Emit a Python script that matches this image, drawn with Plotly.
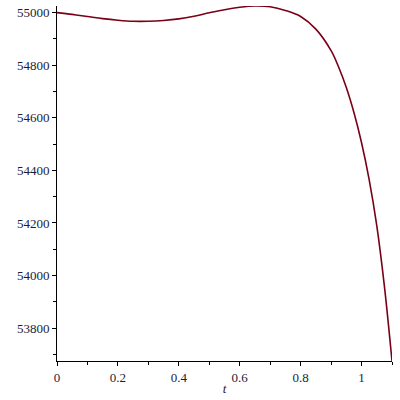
import plotly.graph_objects as go

# values
t_values = [0, 0.05, 0.1, 0.15, 0.2, 0.25, 0.3, 0.35, 0.4, 0.45, 0.5, 0.55, 0.6, 0.65, 0.7,
            0.75, 0.8, 0.85, 0.9, 0.925, 0.95, 0.975, 1.0, 1.025, 1.05, 1.075, 1.1]
y_values = [55000, 54993, 54985, 54977, 54971, 54967, 54967, 54970, 54976, 54986, 54999, 55011, 55020, 55025, 55022,
            55008, 54985, 54937, 54855, 54792, 54715, 54620, 54505, 54365, 54190, 53960, 53675]

x_ticks = [0, 0.2, 0.4, 0.6, 0.8, 1]
x_labels = ['0', '0.2', '0.4', '0.6', '0.8', '1']
y_ticks = [53800, 54000, 54200, 54400, 54600, 54800, 55000]
y_labels = ['53800', '54000', '54200', '54400', '54600', '54800', '55000']

fig = go.Figure()
fig.add_trace(go.Scatter(
    x=t_values, y=y_values, mode='lines',
    line=dict(color='#7a0017', width=1.6, shape='spline', smoothing=1.0),
    hoverinfo='skip',
))

axis_font = dict(family="'Times New Roman', 'Liberation Serif', Times, serif", size=13, color='#1c1c3a')

fig.update_layout(
    width=400, height=400,
    margin=dict(l=57, r=8, t=6, b=39),
    paper_bgcolor='white', plot_bgcolor='white',
    showlegend=False,
    font=axis_font,
)
fig.update_xaxes(
    range=[0, 1.1], tickvals=x_ticks, ticktext=x_labels,
    showline=True, linecolor='black', linewidth=1,
    ticks='outside', ticklen=4, tickcolor='black',
    minor=dict(dtick=0.1, ticks='outside', ticklen=3, tickcolor='black'),
    showgrid=False, zeroline=False, tickfont=axis_font,
    title=dict(text='<i>t</i>', font=axis_font, standoff=0),
)
fig.update_yaxes(
    range=[53675, 55025], tickvals=y_ticks, ticktext=y_labels,
    showline=True, linecolor='black', linewidth=1,
    ticks='outside', ticklen=4, tickcolor='black',
    minor=dict(dtick=100, ticks='outside', ticklen=3, tickcolor='black'),
    showgrid=False, zeroline=False, tickfont=axis_font,
)

# drop the default page margin so the figure sits at the window corner
fig.write_html('out.html', config={'displayModeBar': False},
               post_script="document.body.style.margin='0';")
